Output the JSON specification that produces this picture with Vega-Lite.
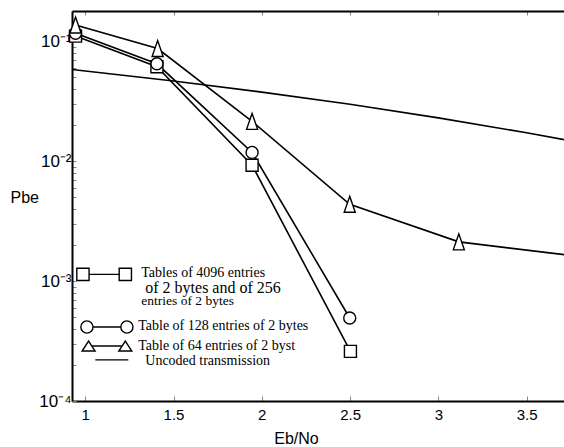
{
  "$schema": "https://vega.github.io/schema/vega-lite/v6.json",
  "width": 497,
  "height": 390,
  "autosize": {"type": "none"},
  "padding": {"left": 72, "top": 11, "right": 0, "bottom": 46},
  "background": "white",
  "config": {"view": {"stroke": null}, "font": "Liberation Sans"},
  "datasets": {
    "curves": [
      {"s": "A", "x": 0.945, "y": 0.110},
      {"s": "A", "x": 1.406, "y": 0.061},
      {"s": "A", "x": 1.945, "y": 0.00923},
      {"s": "A", "x": 2.502, "y": 0.000259},
      {"s": "B", "x": 0.945, "y": 0.116},
      {"s": "B", "x": 1.406, "y": 0.0646},
      {"s": "B", "x": 1.945, "y": 0.0118},
      {"s": "B", "x": 2.498, "y": 0.000492},
      {"s": "C", "x": 0.945, "y": 0.136},
      {"s": "C", "x": 1.41, "y": 0.0866},
      {"s": "C", "x": 1.945, "y": 0.0214},
      {"s": "C", "x": 2.498, "y": 0.00436},
      {"s": "C", "x": 3.116, "y": 0.00212},
      {"s": "C", "x": 3.8, "y": 0.0016},
      {"s": "U", "x": 0.925, "y": 0.058},
      {"s": "U", "x": 1.5, "y": 0.0464},
      {"s": "U", "x": 2.0, "y": 0.0375},
      {"s": "U", "x": 2.5, "y": 0.0297},
      {"s": "U", "x": 3.0, "y": 0.0229},
      {"s": "U", "x": 3.5, "y": 0.0172},
      {"s": "U", "x": 3.74, "y": 0.0148}
    ],
    "legendMarks": [
      {"s": "A", "x": 0.987, "y": 0.001137},
      {"s": "A", "x": 1.227, "y": 0.001137},
      {"s": "B", "x": 1.0096, "y": 0.000414},
      {"s": "B", "x": 1.236, "y": 0.000414},
      {"s": "C", "x": 1.019, "y": 0.000287},
      {"s": "C", "x": 1.227, "y": 0.000287},
      {"s": "U", "x": 1.057, "y": 0.00022},
      {"s": "U", "x": 1.244, "y": 0.00022}
    ],
    "legendText": [
      {"t": "Tables of 4096 entries", "x": 1.3175, "y": 0.001173},
      {"t": "of 2 bytes and of 256", "x": 1.34, "y": 0.00088},
      {"t": "entries of 2 bytes", "x": 1.3175, "y": 0.000681},
      {"t": "Table of 128 entries of 2 bytes", "x": 1.3, "y": 0.000422},
      {"t": "Table of 64 entries of 2 byst", "x": 1.3, "y": 0.000289},
      {"t": "Uncoded transmission", "x": 1.34, "y": 0.000216}
    ]
  },
  "resolve": {"axis": {"x": "independent"}},
  "layer": [
    {
      "data": {"name": "curves"},
      "mark": {"type": "line", "color": "black", "strokeWidth": 1.6, "clip": true},
      "encoding": {
        "x": {
          "field": "x", "type": "quantitative",
          "scale": {"domain": [0.925, 3.74], "nice": false, "zero": false},
          "axis": {
            "orient": "bottom",
            "values": [1, 1.5, 2, 2.5, 3, 3.5],
            "format": "~g",
            "grid": false,
            "domainColor": "black", "domainWidth": 2,
            "tickColor": "#888888", "tickSize": -5, "tickWidth": 1,
            "labelFont": "Liberation Sans", "labelFontSize": 15, "labelColor": "black",
            "labelPadding": 11, "labelFlush": false,
            "title": "Eb/No", "titleFont": "Liberation Sans", "titleFontSize": 16,
            "titleFontWeight": "normal", "titleColor": "black",
            "titleX": 224, "titleY": 37, "titleAlign": "center", "titleBaseline": "middle"
          }
        },
        "y": {
          "field": "y", "type": "quantitative",
          "scale": {"type": "log", "domain": [0.0001, 0.178], "nice": false},
          "axis": {
            "orient": "left",
            "values": [0.0001, 0.0002, 0.0003, 0.0004, 0.0005, 0.0006, 0.0007, 0.0008, 0.0009,
                       0.001, 0.002, 0.003, 0.004, 0.005, 0.006, 0.007, 0.008, 0.009,
                       0.01, 0.02, 0.03, 0.04, 0.05, 0.06, 0.07, 0.08, 0.09, 0.1],
            "labelExpr": "datum.value == 0.1 ? '10⁻¹' : datum.value == 0.01 ? '10⁻²' : datum.value == 0.001 ? '10⁻³' : datum.value == 0.0001 ? '10⁻⁴' : ''",
            "grid": false,
            "domainColor": "black", "domainWidth": 2,
            "tickColor": "#888888", "tickSize": -4, "tickWidth": 1,
            "labelFont": "Liberation Sans", "labelFontSize": 17, "labelColor": "black",
            "labelPadding": 5, "labelOverlap": false, "labelFlush": false, "labelBound": false,
            "title": "Pbe", "titleFont": "Liberation Sans", "titleFontSize": 16,
            "titleFontWeight": "normal", "titleColor": "black", "titleAngle": 0,
            "titleX": -62, "titleY": 186, "titleAlign": "left", "titleBaseline": "middle"
          }
        },
        "detail": {"field": "s", "type": "nominal"}
      }
    },
    {
      "data": {"name": "curves"},
      "transform": [{"filter": "datum.s != 'U' && datum.x < 3.7"}],
      "mark": {"type": "point", "filled": true, "fill": "white", "stroke": "black", "strokeWidth": 1.4, "opacity": 1, "size": 144},
      "encoding": {
        "x": {
          "field": "x", "type": "quantitative",
          "axis": {
            "orient": "top",
            "values": [1, 1.5, 2, 2.5, 3, 3.5],
            "grid": false, "labels": false, "title": null,
            "domainColor": "black", "domainWidth": 2,
            "tickColor": "#888888", "tickSize": -4, "tickWidth": 1
          }
        },
        "y": {"field": "y", "type": "quantitative"},
        "shape": {
          "field": "s", "type": "nominal",
          "scale": {"domain": ["A", "B", "C"], "range": ["square", "circle", "M0,-1.33L0.92,1.33L-0.92,1.33Z"]},
          "legend": null
        }
      }
    },
    {
      "data": {"name": "legendMarks"},
      "mark": {"type": "line", "color": "black", "strokeWidth": 1.4},
      "encoding": {
        "x": {"field": "x", "type": "quantitative", "axis": null},
        "y": {"field": "y", "type": "quantitative"},
        "detail": {"field": "s", "type": "nominal"}
      }
    },
    {
      "data": {"name": "legendMarks"},
      "transform": [{"filter": "datum.s == 'A' || datum.s == 'B'"}],
      "mark": {"type": "point", "filled": true, "fill": "white", "stroke": "black", "strokeWidth": 1.4, "opacity": 1, "size": 150},
      "encoding": {
        "x": {"field": "x", "type": "quantitative", "axis": null},
        "y": {"field": "y", "type": "quantitative"},
        "shape": {"field": "s", "type": "nominal", "legend": null}
      }
    },
    {
      "data": {"name": "legendMarks"},
      "transform": [{"filter": "datum.s == 'C'"}],
      "mark": {"type": "point", "shape": "M0,-0.77L1,0.77L-1,0.77Z", "filled": true, "fill": "white", "stroke": "black", "strokeWidth": 1.4, "opacity": 1, "size": 169},
      "encoding": {
        "x": {"field": "x", "type": "quantitative", "axis": null},
        "y": {"field": "y", "type": "quantitative"}
      }
    },
    {
      "data": {"name": "legendText"},
      "transform": [{"filter": "datum.t != 'of 2 bytes and of 256' && datum.t != 'entries of 2 bytes'"}],
      "mark": {"type": "text", "font": "Liberation Serif", "fontSize": 14, "align": "left", "baseline": "middle", "color": "black"},
      "encoding": {
        "x": {"field": "x", "type": "quantitative", "axis": null},
        "y": {"field": "y", "type": "quantitative"},
        "text": {"field": "t", "type": "nominal"}
      }
    },
    {
      "data": {"name": "legendText"},
      "transform": [{"filter": "datum.t == 'of 2 bytes and of 256'"}],
      "mark": {"type": "text", "font": "Liberation Serif", "fontSize": 16, "align": "left", "baseline": "middle", "color": "black"},
      "encoding": {
        "x": {"field": "x", "type": "quantitative", "axis": null},
        "y": {"field": "y", "type": "quantitative"},
        "text": {"field": "t", "type": "nominal"}
      }
    },
    {
      "data": {"name": "legendText"},
      "transform": [{"filter": "datum.t == 'entries of 2 bytes'"}],
      "mark": {"type": "text", "font": "Liberation Serif", "fontSize": 13.5, "align": "left", "baseline": "middle", "color": "black"},
      "encoding": {
        "x": {"field": "x", "type": "quantitative", "axis": null},
        "y": {"field": "y", "type": "quantitative"},
        "text": {"field": "t", "type": "nominal"}
      }
    }
  ]
}
